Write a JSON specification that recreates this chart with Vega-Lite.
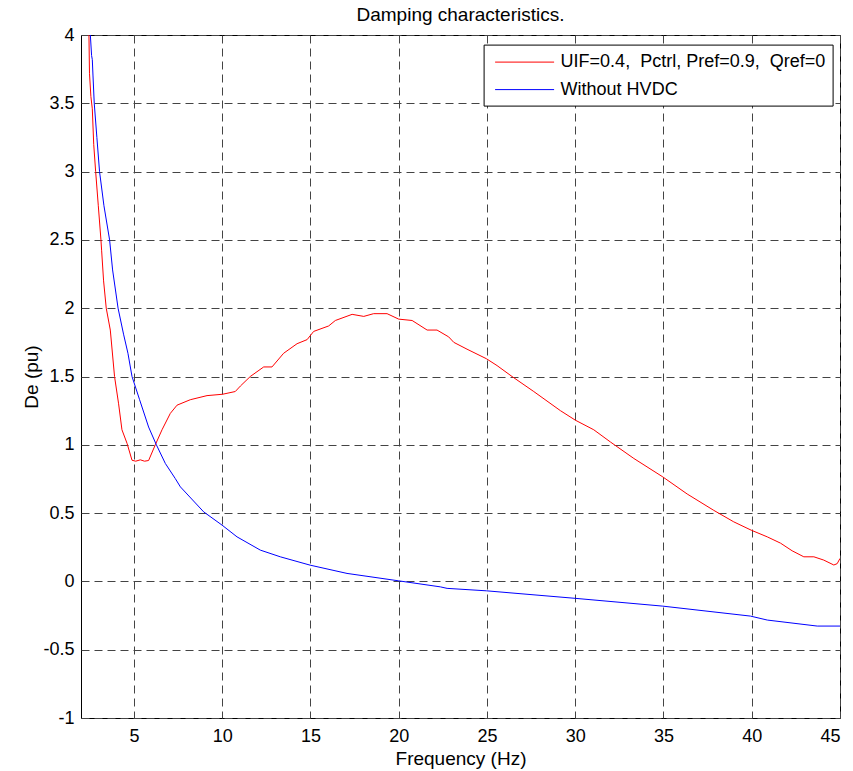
{
  "$schema": "https://vega.github.io/schema/vega-lite/v6.json",
  "width": 759,
  "height": 683,
  "autosize": {"type": "none"},
  "padding": {"left": 81, "top": 35, "right": 13, "bottom": 53},
  "background": "white",
  "title": {"text": "Damping characteristics.", "font": "Liberation Sans", "fontSize": 19, "fontWeight": "normal", "color": "black", "anchor": "middle", "baseline": "alphabetic", "offset": 1, "dy": 15},
  "config": {
    "view": {"stroke": "black", "strokeWidth": 1},
    "axis": {"grid": true, "gridColor": "#444", "gridDash": [8, 5], "gridWidth": 1, "ticks": false, "domain": false, "labelFont": "Liberation Sans", "labelFontSize": 18, "labelColor": "black", "titleFont": "Liberation Sans", "titleFontSize": 19, "titleFontWeight": "normal", "titleColor": "black"}
  },
  "data": {"values": [
    {"f": 2.45, "De": 4.0, "s": "UIF=0.4,\u00a0 Pctrl, Pref=0.9,\u00a0 Qref=0"},
    {"f": 2.48, "De": 3.72, "s": "UIF=0.4,\u00a0 Pctrl, Pref=0.9,\u00a0 Qref=0"},
    {"f": 2.56, "De": 3.55, "s": "UIF=0.4,\u00a0 Pctrl, Pref=0.9,\u00a0 Qref=0"},
    {"f": 2.64, "De": 3.46, "s": "UIF=0.4,\u00a0 Pctrl, Pref=0.9,\u00a0 Qref=0"},
    {"f": 2.72, "De": 3.2, "s": "UIF=0.4,\u00a0 Pctrl, Pref=0.9,\u00a0 Qref=0"},
    {"f": 2.83, "De": 3.0, "s": "UIF=0.4,\u00a0 Pctrl, Pref=0.9,\u00a0 Qref=0"},
    {"f": 2.98, "De": 2.75, "s": "UIF=0.4,\u00a0 Pctrl, Pref=0.9,\u00a0 Qref=0"},
    {"f": 3.13, "De": 2.5, "s": "UIF=0.4,\u00a0 Pctrl, Pref=0.9,\u00a0 Qref=0"},
    {"f": 3.17, "De": 2.42, "s": "UIF=0.4,\u00a0 Pctrl, Pref=0.9,\u00a0 Qref=0"},
    {"f": 3.28, "De": 2.2, "s": "UIF=0.4,\u00a0 Pctrl, Pref=0.9,\u00a0 Qref=0"},
    {"f": 3.43, "De": 2.0, "s": "UIF=0.4,\u00a0 Pctrl, Pref=0.9,\u00a0 Qref=0"},
    {"f": 3.66, "De": 1.84, "s": "UIF=0.4,\u00a0 Pctrl, Pref=0.9,\u00a0 Qref=0"},
    {"f": 3.9, "De": 1.5, "s": "UIF=0.4,\u00a0 Pctrl, Pref=0.9,\u00a0 Qref=0"},
    {"f": 4.13, "De": 1.3, "s": "UIF=0.4,\u00a0 Pctrl, Pref=0.9,\u00a0 Qref=0"},
    {"f": 4.32, "De": 1.11, "s": "UIF=0.4,\u00a0 Pctrl, Pref=0.9,\u00a0 Qref=0"},
    {"f": 4.61, "De": 1.01, "s": "UIF=0.4,\u00a0 Pctrl, Pref=0.9,\u00a0 Qref=0"},
    {"f": 4.89, "De": 0.887, "s": "UIF=0.4,\u00a0 Pctrl, Pref=0.9,\u00a0 Qref=0"},
    {"f": 5.1, "De": 0.88, "s": "UIF=0.4,\u00a0 Pctrl, Pref=0.9,\u00a0 Qref=0"},
    {"f": 5.36, "De": 0.89, "s": "UIF=0.4,\u00a0 Pctrl, Pref=0.9,\u00a0 Qref=0"},
    {"f": 5.6, "De": 0.88, "s": "UIF=0.4,\u00a0 Pctrl, Pref=0.9,\u00a0 Qref=0"},
    {"f": 5.83, "De": 0.885, "s": "UIF=0.4,\u00a0 Pctrl, Pref=0.9,\u00a0 Qref=0"},
    {"f": 6.21, "De": 1.0, "s": "UIF=0.4,\u00a0 Pctrl, Pref=0.9,\u00a0 Qref=0"},
    {"f": 6.59, "De": 1.11, "s": "UIF=0.4,\u00a0 Pctrl, Pref=0.9,\u00a0 Qref=0"},
    {"f": 7.06, "De": 1.23, "s": "UIF=0.4,\u00a0 Pctrl, Pref=0.9,\u00a0 Qref=0"},
    {"f": 7.44, "De": 1.29, "s": "UIF=0.4,\u00a0 Pctrl, Pref=0.9,\u00a0 Qref=0"},
    {"f": 8.19, "De": 1.33, "s": "UIF=0.4,\u00a0 Pctrl, Pref=0.9,\u00a0 Qref=0"},
    {"f": 9.14, "De": 1.36, "s": "UIF=0.4,\u00a0 Pctrl, Pref=0.9,\u00a0 Qref=0"},
    {"f": 10.02, "De": 1.37, "s": "UIF=0.4,\u00a0 Pctrl, Pref=0.9,\u00a0 Qref=0"},
    {"f": 10.74, "De": 1.39, "s": "UIF=0.4,\u00a0 Pctrl, Pref=0.9,\u00a0 Qref=0"},
    {"f": 11.03, "De": 1.43, "s": "UIF=0.4,\u00a0 Pctrl, Pref=0.9,\u00a0 Qref=0"},
    {"f": 11.59, "De": 1.5, "s": "UIF=0.4,\u00a0 Pctrl, Pref=0.9,\u00a0 Qref=0"},
    {"f": 12.35, "De": 1.57, "s": "UIF=0.4,\u00a0 Pctrl, Pref=0.9,\u00a0 Qref=0"},
    {"f": 12.82, "De": 1.57, "s": "UIF=0.4,\u00a0 Pctrl, Pref=0.9,\u00a0 Qref=0"},
    {"f": 13.48, "De": 1.67, "s": "UIF=0.4,\u00a0 Pctrl, Pref=0.9,\u00a0 Qref=0"},
    {"f": 14.24, "De": 1.74, "s": "UIF=0.4,\u00a0 Pctrl, Pref=0.9,\u00a0 Qref=0"},
    {"f": 14.81, "De": 1.77, "s": "UIF=0.4,\u00a0 Pctrl, Pref=0.9,\u00a0 Qref=0"},
    {"f": 15.18, "De": 1.83, "s": "UIF=0.4,\u00a0 Pctrl, Pref=0.9,\u00a0 Qref=0"},
    {"f": 16.03, "De": 1.87, "s": "UIF=0.4,\u00a0 Pctrl, Pref=0.9,\u00a0 Qref=0"},
    {"f": 16.41, "De": 1.91, "s": "UIF=0.4,\u00a0 Pctrl, Pref=0.9,\u00a0 Qref=0"},
    {"f": 17.36, "De": 1.955, "s": "UIF=0.4,\u00a0 Pctrl, Pref=0.9,\u00a0 Qref=0"},
    {"f": 18.02, "De": 1.94, "s": "UIF=0.4,\u00a0 Pctrl, Pref=0.9,\u00a0 Qref=0"},
    {"f": 18.58, "De": 1.96, "s": "UIF=0.4,\u00a0 Pctrl, Pref=0.9,\u00a0 Qref=0"},
    {"f": 19.34, "De": 1.96, "s": "UIF=0.4,\u00a0 Pctrl, Pref=0.9,\u00a0 Qref=0"},
    {"f": 20.0, "De": 1.92, "s": "UIF=0.4,\u00a0 Pctrl, Pref=0.9,\u00a0 Qref=0"},
    {"f": 20.76, "De": 1.91, "s": "UIF=0.4,\u00a0 Pctrl, Pref=0.9,\u00a0 Qref=0"},
    {"f": 21.61, "De": 1.84, "s": "UIF=0.4,\u00a0 Pctrl, Pref=0.9,\u00a0 Qref=0"},
    {"f": 22.17, "De": 1.84, "s": "UIF=0.4,\u00a0 Pctrl, Pref=0.9,\u00a0 Qref=0"},
    {"f": 22.83, "De": 1.79, "s": "UIF=0.4,\u00a0 Pctrl, Pref=0.9,\u00a0 Qref=0"},
    {"f": 23.12, "De": 1.75, "s": "UIF=0.4,\u00a0 Pctrl, Pref=0.9,\u00a0 Qref=0"},
    {"f": 23.87, "De": 1.7, "s": "UIF=0.4,\u00a0 Pctrl, Pref=0.9,\u00a0 Qref=0"},
    {"f": 24.97, "De": 1.63, "s": "UIF=0.4,\u00a0 Pctrl, Pref=0.9,\u00a0 Qref=0"},
    {"f": 25.57, "De": 1.58, "s": "UIF=0.4,\u00a0 Pctrl, Pref=0.9,\u00a0 Qref=0"},
    {"f": 26.42, "De": 1.5, "s": "UIF=0.4,\u00a0 Pctrl, Pref=0.9,\u00a0 Qref=0"},
    {"f": 27.65, "De": 1.39, "s": "UIF=0.4,\u00a0 Pctrl, Pref=0.9,\u00a0 Qref=0"},
    {"f": 29.16, "De": 1.25, "s": "UIF=0.4,\u00a0 Pctrl, Pref=0.9,\u00a0 Qref=0"},
    {"f": 30.01, "De": 1.18, "s": "UIF=0.4,\u00a0 Pctrl, Pref=0.9,\u00a0 Qref=0"},
    {"f": 31.05, "De": 1.11, "s": "UIF=0.4,\u00a0 Pctrl, Pref=0.9,\u00a0 Qref=0"},
    {"f": 32.0, "De": 1.02, "s": "UIF=0.4,\u00a0 Pctrl, Pref=0.9,\u00a0 Qref=0"},
    {"f": 33.32, "De": 0.9, "s": "UIF=0.4,\u00a0 Pctrl, Pref=0.9,\u00a0 Qref=0"},
    {"f": 34.96, "De": 0.765, "s": "UIF=0.4,\u00a0 Pctrl, Pref=0.9,\u00a0 Qref=0"},
    {"f": 36.34, "De": 0.64, "s": "UIF=0.4,\u00a0 Pctrl, Pref=0.9,\u00a0 Qref=0"},
    {"f": 37.85, "De": 0.52, "s": "UIF=0.4,\u00a0 Pctrl, Pref=0.9,\u00a0 Qref=0"},
    {"f": 38.98, "De": 0.436, "s": "UIF=0.4,\u00a0 Pctrl, Pref=0.9,\u00a0 Qref=0"},
    {"f": 39.97, "De": 0.375, "s": "UIF=0.4,\u00a0 Pctrl, Pref=0.9,\u00a0 Qref=0"},
    {"f": 40.88, "De": 0.326, "s": "UIF=0.4,\u00a0 Pctrl, Pref=0.9,\u00a0 Qref=0"},
    {"f": 41.63, "De": 0.28, "s": "UIF=0.4,\u00a0 Pctrl, Pref=0.9,\u00a0 Qref=0"},
    {"f": 42.29, "De": 0.224, "s": "UIF=0.4,\u00a0 Pctrl, Pref=0.9,\u00a0 Qref=0"},
    {"f": 42.95, "De": 0.18, "s": "UIF=0.4,\u00a0 Pctrl, Pref=0.9,\u00a0 Qref=0"},
    {"f": 43.52, "De": 0.18, "s": "UIF=0.4,\u00a0 Pctrl, Pref=0.9,\u00a0 Qref=0"},
    {"f": 44.08, "De": 0.156, "s": "UIF=0.4,\u00a0 Pctrl, Pref=0.9,\u00a0 Qref=0"},
    {"f": 44.65, "De": 0.12, "s": "UIF=0.4,\u00a0 Pctrl, Pref=0.9,\u00a0 Qref=0"},
    {"f": 44.84, "De": 0.13, "s": "UIF=0.4,\u00a0 Pctrl, Pref=0.9,\u00a0 Qref=0"},
    {"f": 45.0, "De": 0.168, "s": "UIF=0.4,\u00a0 Pctrl, Pref=0.9,\u00a0 Qref=0"},
    {"f": 2.53, "De": 4.0, "s": "Without HVDC"},
    {"f": 2.6, "De": 3.85, "s": "Without HVDC"},
    {"f": 2.64, "De": 3.82, "s": "Without HVDC"},
    {"f": 2.68, "De": 3.7, "s": "Without HVDC"},
    {"f": 2.75, "De": 3.5, "s": "Without HVDC"},
    {"f": 2.9, "De": 3.25, "s": "Without HVDC"},
    {"f": 3.05, "De": 3.0, "s": "Without HVDC"},
    {"f": 3.3, "De": 2.75, "s": "Without HVDC"},
    {"f": 3.62, "De": 2.5, "s": "Without HVDC"},
    {"f": 3.79, "De": 2.28, "s": "Without HVDC"},
    {"f": 4.1, "De": 2.0, "s": "Without HVDC"},
    {"f": 4.41, "De": 1.81, "s": "Without HVDC"},
    {"f": 4.66, "De": 1.67, "s": "Without HVDC"},
    {"f": 4.89, "De": 1.5, "s": "Without HVDC"},
    {"f": 5.32, "De": 1.33, "s": "Without HVDC"},
    {"f": 5.83, "De": 1.13, "s": "Without HVDC"},
    {"f": 6.27, "De": 1.0, "s": "Without HVDC"},
    {"f": 6.78, "De": 0.863, "s": "Without HVDC"},
    {"f": 7.34, "De": 0.753, "s": "Without HVDC"},
    {"f": 7.63, "De": 0.692, "s": "Without HVDC"},
    {"f": 8.95, "De": 0.509, "s": "Without HVDC"},
    {"f": 9.99, "De": 0.412, "s": "Without HVDC"},
    {"f": 10.84, "De": 0.326, "s": "Without HVDC"},
    {"f": 12.16, "De": 0.229, "s": "Without HVDC"},
    {"f": 13.29, "De": 0.18, "s": "Without HVDC"},
    {"f": 14.98, "De": 0.119, "s": "Without HVDC"},
    {"f": 17.07, "De": 0.0585, "s": "Without HVDC"},
    {"f": 20.0, "De": 0.004, "s": "Without HVDC"},
    {"f": 22.36, "De": -0.04, "s": "Without HVDC"},
    {"f": 22.74, "De": -0.051, "s": "Without HVDC"},
    {"f": 24.97, "De": -0.069, "s": "Without HVDC"},
    {"f": 30.0, "De": -0.124, "s": "Without HVDC"},
    {"f": 34.96, "De": -0.181, "s": "Without HVDC"},
    {"f": 39.93, "De": -0.254, "s": "Without HVDC"},
    {"f": 40.88, "De": -0.283, "s": "Without HVDC"},
    {"f": 43.71, "De": -0.327, "s": "Without HVDC"},
    {"f": 45.0, "De": -0.327, "s": "Without HVDC"}
  ]},
  "mark": {"type": "line", "strokeWidth": 1, "clip": true},
  "encoding": {
    "x": {"field": "f", "type": "quantitative", "scale": {"domain": [2, 45], "nice": false, "zero": false},
      "axis": {"values": [5, 10, 15, 20, 25, 30, 35, 40, 45], "title": "Frequency (Hz)", "labelPadding": 9, "titlePadding": 4, "labelExpr": "'' + datum.value"}},
    "y": {"field": "De", "type": "quantitative", "scale": {"domain": [-1, 4], "nice": false, "zero": false},
      "axis": {"values": [-1, -0.5, 0, 0.5, 1, 1.5, 2, 2.5, 3, 3.5, 4], "title": "De (pu)", "labelPadding": 7, "titlePadding": 1, "labelExpr": "'' + datum.value"}},
    "color": {"field": "s", "type": "nominal",
      "scale": {"domain": ["UIF=0.4,\u00a0 Pctrl, Pref=0.9,\u00a0 Qref=0", "Without HVDC"], "range": ["#ff0000", "#0000ff"]},
      "legend": {"title": null, "orient": "none", "legendX": 402.6, "legendY": 9.6, "symbolType": "M-0.6,0H5.3", "symbolSize": 400, "symbolStrokeWidth": 1, "labelFont": "Liberation Sans", "labelFontSize": 18, "labelColor": "black", "labelOffset": 49, "labelLimit": 0, "padding": 7, "rowPadding": 7.5, "fillColor": "white", "strokeColor": "black", "cornerRadius": 0}}
  }
}
